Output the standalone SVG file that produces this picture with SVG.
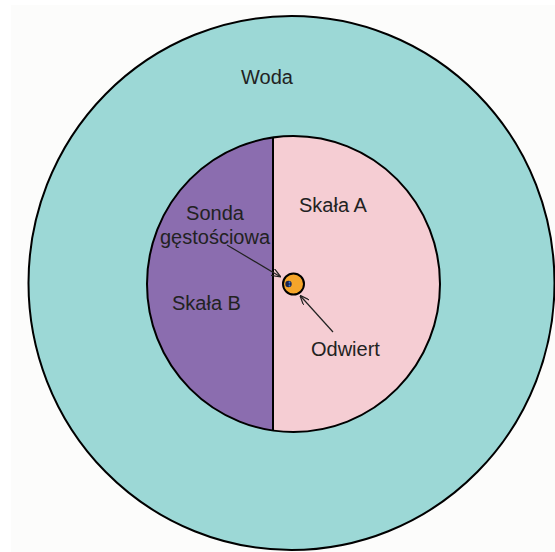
<svg xmlns="http://www.w3.org/2000/svg" width="555" height="552" viewBox="0 0 555 552">
  <defs>
    <style>
      .lbl { font-family: "Liberation Sans", Arial, sans-serif; font-size: 20px; fill: #222222; }
      .edge { stroke: #000000; stroke-width: 2; }
      .ptr { stroke: #222222; stroke-width: 1.2; fill: none; }
    </style>
    <marker id="ah" markerWidth="10" markerHeight="8" refX="9" refY="4" orient="auto" markerUnits="userSpaceOnUse">
      <path d="M0,0 L10,4 L0,8" fill="none" stroke="#222222" stroke-width="1.2"/>
    </marker>
  </defs>
  <rect x="0" y="0" width="555" height="552" fill="#ffffff"/>
  <rect x="11" y="5" width="544" height="547" fill="#fcfcfb"/>
  <g id="woda">
    <ellipse cx="291.5" cy="283" rx="263" ry="267" fill="#9cd8d6" class="edge"/>
    <text class="lbl" x="241" y="84">Woda</text>
  </g>
  <g id="skala-a">
    <ellipse cx="293.5" cy="284" rx="146.5" ry="148" fill="#f5cdd3"/>
    <text class="lbl" x="299" y="212">Skała A</text>
  </g>
  <g id="skala-b">
    <path d="M273,137.5 A146.5,148 0 0 0 273,430.5 Z" fill="#8b6daf"/>
    <text class="lbl" x="172" y="310">Skała B</text>
  </g>
  <g id="outline">
    <ellipse cx="293.5" cy="284" rx="146.5" ry="148" fill="none" class="edge"/>
    <line x1="273" y1="137.5" x2="273" y2="430.5" class="edge"/>
  </g>
  <g id="odwiert">
    <circle cx="293.5" cy="284" r="10.5" fill="#f5a52a" class="edge"/>
    <text class="lbl" x="311" y="356">Odwiert</text>
  </g>
  <g id="sonda">
    <circle cx="288.5" cy="284" r="3.2" fill="#1a2550"/>
    <circle cx="289.5" cy="282.5" r="0.9" fill="#3a7bd5"/>
    <circle cx="289.5" cy="285.5" r="0.9" fill="#3a7bd5"/>
    <text class="lbl" x="215" y="220" text-anchor="middle">Sonda</text>
    <text class="lbl" x="215" y="244" text-anchor="middle">gęstościowa</text>
  </g>
  <g id="connectors">
    <line x1="227" y1="245" x2="280" y2="276.5" class="ptr" marker-end="url(#ah)"/>
    <line x1="333" y1="332" x2="300.5" y2="296" class="ptr" marker-end="url(#ah)"/>
  </g>
</svg>
